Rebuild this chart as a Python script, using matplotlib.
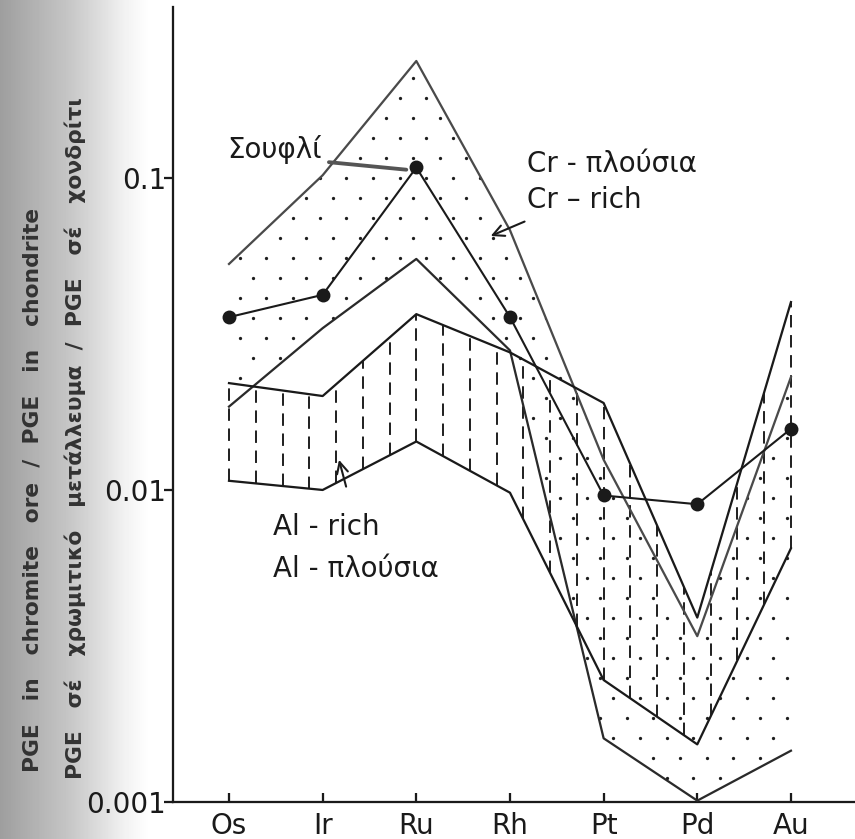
import numpy as np
import matplotlib
matplotlib.use("Agg")
import matplotlib.pyplot as plt

# ---------------- data ----------------
elements = ["Os", "Ir", "Ru", "Rh", "Pt", "Pd", "Au"]
cr_upper = [0.053, 0.102, 0.237, 0.068, 0.0125, 0.0034, 0.023]
cr_lower = [0.0185, 0.033, 0.055, 0.028, 0.0016, 0.00101, 0.00146]
al_upper = [0.022, 0.020, 0.0366, 0.0276, 0.019, 0.0039, 0.040]
al_lower = [0.0107, 0.0100, 0.0143, 0.0098, 0.00246, 0.00153, 0.0065]
soufli = [0.0358, 0.0422, 0.108, 0.0358, 0.0096, 0.0090, 0.0157]
y_ticks = [0.001, 0.01, 0.1]
y_ticklabels = ["0.001", "0.01", "0.1"]

W, H, DPI = 855, 839, 125
plt.rcParams["font.family"] = ["DejaVu Sans"]

fig = plt.figure(figsize=(W / DPI, H / DPI), dpi=DPI)

# scanned-page shadow on the left
bg = fig.add_axes([0, 0, 150 / W, 1], zorder=-5)
cols = np.arange(150)
shade = np.interp(cols, [0, 35, 70, 100, 125, 149], [0.62, 0.70, 0.78, 0.87, 0.95, 1.0])
bg.imshow(np.tile(shade, (10, 1)), cmap="gray", vmin=0, vmax=1, aspect="auto",
          extent=[0, 1, 0, 1])
bg.axis("off")

ax = fig.add_axes([173 / W, 37 / H, 1 - 173 / W, (802 - 7) / H])
ax.patch.set_alpha(0)
idx = np.arange(len(elements))
ax.set_yscale("log")
ax.set_xlim(-0.598, 6.684)
ax.set_ylim(0.001, 0.353)

lc = "#1a1a1a"
# Cr-rich field: stipple (regular staggered dot pattern clipped to the field)
field = ax.fill_between(idx, cr_lower, cr_upper, facecolor="none", linewidth=0, zorder=1)
dx, dy = 0.285, 20 / 795
gx, gy = [], []
for r, yy in enumerate(np.arange(0.005, 1.0, dy)):
    xs = np.arange(-0.6 + (dx / 2 if r % 2 else 0), 6.7, dx)
    gx.extend(xs)
    gy.extend([yy] * len(xs))
dots = ax.scatter(gx, gy, s=3.6, color="#1e1e1e", linewidths=0,
                  transform=ax.get_xaxis_transform(), zorder=1)
dots.set_clip_path(field.get_paths()[0], ax.transData)

# Al-rich field: vertical dashes
xd = np.linspace(0, 6, 22)
lo = 10 ** np.interp(xd, idx, np.log10(al_lower))
hi = 10 ** np.interp(xd, idx, np.log10(al_upper))
ax.vlines(xd, lo, hi, colors=lc, linewidth=1.1, linestyles=(0, (6.5, 4.0)), zorder=1)

for series, col in [(cr_upper, "#4a4a4a"), (cr_lower, "#2a2a2a"),
                    (al_upper, lc), (al_lower, lc)]:
    ax.plot(idx, series, color=col, lw=1.3, zorder=3)
ax.plot(idx, soufli, color=lc, lw=1.2, marker="o", ms=7, zorder=4)

# annotations
ax.text(-0.02, 0.123, "Σουφλί", fontsize=16, ha="left", va="center", color=lc)
ax.annotate("", xy=(1.93, 0.106), xytext=(1.03, 0.1126),
            arrowprops=dict(arrowstyle="-", color="#555555", lw=2.2))
ax.text(3.18, 0.111, "Cr - πλούσια", fontsize=16, ha="left", va="center", color=lc)
ax.text(3.18, 0.085, "Cr – rich", fontsize=16, ha="left", va="center", color=lc)
ax.annotate("", xy=(2.76, 0.0645), xytext=(3.19, 0.0732),
            arrowprops=dict(arrowstyle="->", color=lc, lw=1.2, mutation_scale=16))
ax.text(0.47, 0.0076, "Al - rich", fontsize=16, ha="left", va="center", color=lc)
ax.text(0.47, 0.0056, "Al - πλούσια", fontsize=16, ha="left", va="center", color=lc)
ax.annotate("", xy=(1.165, 0.0128), xytext=(1.26, 0.0100),
            arrowprops=dict(arrowstyle="->", color=lc, lw=1.2, mutation_scale=16))

# axes styling
for s in ["top", "right"]:
    ax.spines[s].set_visible(False)
for s in ["left", "bottom"]:
    ax.spines[s].set_linewidth(1.3)
    ax.spines[s].set_color(lc)
ax.set_yticks(y_ticks)
ax.set_yticklabels(y_ticklabels)
ax.yaxis.set_minor_locator(matplotlib.ticker.NullLocator())
ax.set_xticks(idx)
ax.set_xticklabels(elements)
ax.tick_params(axis="y", direction="out", length=5, width=1.3, labelsize=16,
               pad=-1, colors=lc)
ax.tick_params(axis="x", direction="in", length=5, width=1.3, labelsize=16,
               pad=6, colors=lc)

fig.text(33 / W, 1 - 490 / H, "PGE   in   chromite   ore  /  PGE   in   chondrite",
         rotation=90, fontsize=12.5, fontweight="bold", color="#333333",
         ha="center", va="center")
fig.text(75 / W, 1 - 438 / H, "PGE   σέ   χρωμιτικό   μετάλλευμα  /  PGE   σέ   χονδρίτι",
         rotation=90, fontsize=12.5, fontweight="bold", color="#333333",
         ha="center", va="center")

fig.savefig("out.png", dpi=DPI)
